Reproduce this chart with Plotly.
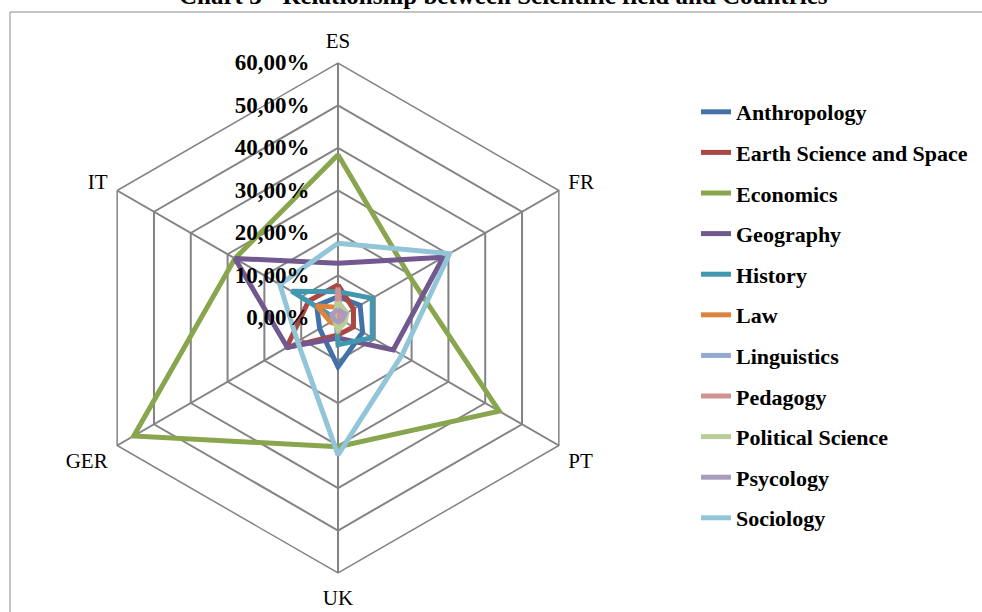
import plotly.graph_objects as go

countries = ["ES", "FR", "PT", "UK", "GER", "IT"]

anthropology = [5.0, 6.0, 6.7, 11.5, 5.0, 5.8]
earth_science = [7.8, 4.2, 4.2, 4.0, 14.0, 8.0]
economics = [38.4, 19.5, 43.8, 30.3, 55.5, 28.0]
geography = [12.9, 28.6, 15.0, 4.7, 13.8, 28.0]
history = [6.2, 9.3, 9.3, 6.3, 0.5, 12.6]
law = [2.5, 1.5, 1.5, 1.5, 2.0, 5.8]
linguistics = [1.0, 0.8, 0.8, 0.8, 0.8, 1.0]
pedagogy = [7.2, 0.8, 0.8, 3.5, 0.5, 0.5]
political_science = [3.8, 2.4, 1.9, 2.8, 1.0, 1.0]
psycology = [2.0, 1.9, 1.0, 0.9, 1.0, 1.7]
sociology = [17.6, 30.3, 17.4, 32.2, 11.0, 15.8]

series_names = ["Anthropology", "Earth Science and Space", "Economics", "Geography",
                "History", "Law", "Linguistics", "Pedagogy", "Political Science",
                "Psycology", "Sociology"]
series_values = [anthropology, earth_science, economics, geography, history, law,
                 linguistics, pedagogy, political_science, psycology, sociology]
colors = ["#4472A8", "#AA4643", "#89A54E", "#71588F", "#4198AF", "#DB843D",
          "#93A9CF", "#D19392", "#B9CD96", "#A99BBD", "#92C5D8"]

radial_ticks = [0, 0.1, 0.2, 0.3, 0.4, 0.5, 0.6]
title_text = "Chart 3 - Relationship between Scientific field and Countries"

fig = go.Figure()
for i, (name, vals, col) in enumerate(zip(series_names, series_values, colors)):
    r = [v / 100 for v in vals] + [vals[0] / 100]
    th = countries + [countries[0]]
    fig.add_trace(go.Scatterpolar(
        r=r, theta=th, mode="lines", name=name,
        line=dict(color=col, width=5),
        legendgroup="g%d" % i,
    ))

cx, cy, R = 338, 318, 255
W, H = 982, 612

fig.update_layout(
    width=W, height=H,
    margin=dict(l=0, r=0, t=0, b=0),
    paper_bgcolor="white",
    separators=",.",
    font=dict(family="Liberation Serif", color="black"),
    polar=dict(
        domain=dict(x=[(cx - R) / W, (cx + R) / W],
                    y=[(H - cy - R) / H, (H - cy + R) / H]),
        gridshape="linear",
        bgcolor="white",
        radialaxis=dict(range=[0, 0.6], tickvals=radial_ticks, tickformat=".2%",
                        angle=90, tickangle=90, side="counterclockwise",
                        showline=False, ticks="outside", ticklen=20,
                        tickcolor="rgba(0,0,0,0)",
                        gridcolor="#838383", gridwidth=1.5,
                        tickfont=dict(family="Liberation Serif", size=23, color="black",
                                      weight="bold")),
        angularaxis=dict(rotation=90, direction="clockwise", type="category",
                         categoryarray=countries,
                         gridcolor="#838383", gridwidth=1.5,
                         linecolor="#838383", linewidth=1.5, showline=True,
                         ticks="outside", ticklen=6, tickcolor="rgba(0,0,0,0)",
                         tickfont=dict(family="Liberation Serif", size=21, color="black")),
    ),
    showlegend=True,
    legend=dict(x=696 / W, y=1 - 91 / H, xanchor="left", yanchor="top",
                tracegroupgap=9, traceorder="grouped",
                font=dict(family="Liberation Serif", size=22, color="black",
                          weight="bold"),
                bgcolor="rgba(0,0,0,0)"),
    annotations=[dict(text="<b>" + title_text + "</b>", xref="paper", yref="paper",
                      x=503 / W, y=1 + 5 / H, xanchor="center", yanchor="middle",
                      showarrow=False,
                      font=dict(family="Liberation Serif", size=25, color="black"))],
    shapes=[dict(type="rect", xref="paper", yref="paper",
                 x0=10 / W, x1=1.2, y0=-0.2, y1=1 - 12 / H,
                 line=dict(color="#8a8a8a", width=1), fillcolor="rgba(0,0,0,0)",
                 layer="below")],
)

fig.write_html("out.html",
               config={"displayModeBar": False},
               post_script="document.body.style.margin='0px';"
                           "document.body.style.overflow='hidden';")
